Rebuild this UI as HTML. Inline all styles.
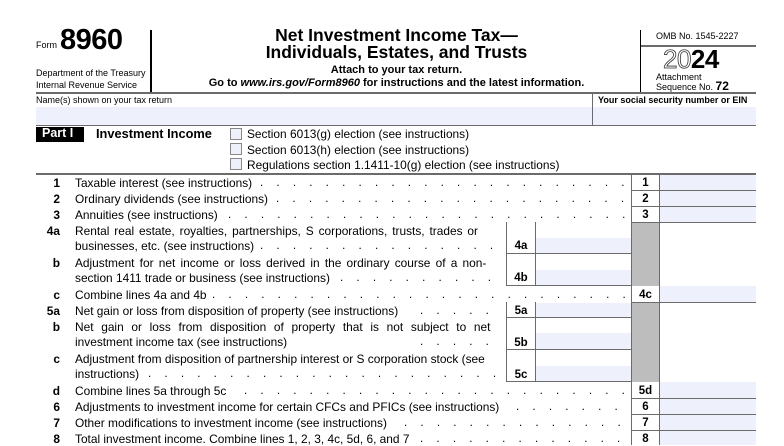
<!DOCTYPE html>
<html><head><meta charset="utf-8"><style>
body{margin:0;width:784px;height:445px;background:#fff;overflow:hidden;font-family:"Liberation Sans",Arial,sans-serif;color:#000;position:relative}
div,span{position:absolute;white-space:nowrap}
.hl{background:#000}
.g{background:#6b6b6b}
.fill{background:#eef1fc}
.gray{background:#bdbdbd}
.t{font-size:11.9px;line-height:14px}
.n{font-size:11.9px;line-height:14px;font-weight:bold;text-align:right;width:24px;left:36px}
.lb{font-size:11.5px;font-weight:bold;text-align:center;line-height:14px}
.dots{letter-spacing:13.2px;font-size:11.6px;line-height:14px;overflow:hidden}
.cb{width:10px;height:10px;border:1px solid #888;background:#eef1fc;left:230px}
</style></head><body>
<div style="left:36px;top:40px;font-size:9px">Form</div>
<div style="left:60px;top:24px;font-size:29px;font-weight:bold;letter-spacing:-0.5px">8960</div>
<div style="left:36px;top:67px;font-size:9px;line-height:12px">Department of the Treasury<br>Internal Revenue Service</div>
<div class="hl" style="left:150px;top:30px;width:2px;height:63px"></div>
<div style="left:152px;width:489px;top:27px;text-align:center;font-size:17.5px;font-weight:bold;line-height:17px">Net Investment Income Tax—<br>Individuals, Estates, and Trusts</div>
<div style="left:152px;width:489px;top:64px;text-align:center;font-size:11px;font-weight:bold">Attach to your tax return.</div>
<div style="left:152px;width:489px;top:77px;text-align:center;font-size:11px;font-weight:bold">Go to <i>www.irs.gov/Form8960</i> for instructions and the latest information.</div>
<div class="hl" style="left:640px;top:30px;width:1px;height:63px"></div>
<div style="left:656px;top:31px;font-size:9px">OMB No. 1545-2227</div>
<div class="g" style="left:641px;top:45px;width:115px;height:2px"></div>
<div style="left:663px;top:44px;font-size:26px;font-weight:bold;letter-spacing:-0.5px"><span style="position:static;color:#fff;-webkit-text-stroke:0.8px #333;font-weight:normal">20</span>24</div>
<div style="left:656px;top:73px;font-size:9px;line-height:9px">Attachment<br>Sequence No. <b style="font-size:12px">72</b></div>
<div class="g" style="left:36px;top:92px;width:720px;height:2px"></div>
<div style="left:36px;top:95px;font-size:9px">Name(s) shown on your tax return</div>
<div style="left:598px;top:95px;font-size:9px;font-weight:bold">Your social security number or EIN</div>
<div class="fill" style="left:36px;top:107px;width:720px;height:19px"></div>
<div class="g" style="left:592px;top:94px;width:1px;height:32px"></div>
<div class="g" style="left:36px;top:125px;width:720px;height:1px"></div>
<div class="hl" style="left:36px;top:127px;width:48px;height:15px"></div>
<div style="left:42px;top:126px;font-size:12.5px;font-weight:bold;color:#fff">Part I</div>
<div style="left:96px;top:126px;font-size:12.8px;font-weight:bold">Investment Income</div>
<div class="cb" style="top:128px"></div><div class="t" style="left:247px;top:127px">Section 6013(g) election (see instructions)</div>
<div class="cb" style="top:143px"></div><div class="t" style="left:247px;top:143px">Section 6013(h) election (see instructions)</div>
<div class="cb" style="top:158px"></div><div class="t" style="left:247px;top:158px">Regulations section 1.1411-10(g) election (see instructions)</div>
<div class="g" style="left:36px;top:173px;width:720px;height:2px"></div>

<div class="g" style="left:631px;top:175px;width:1px;height:270px"></div>
<div class="g" style="left:659px;top:175px;width:1px;height:270px"></div>
<div class="gray" style="left:632px;top:223px;width:27px;height:63px"></div>
<div class="gray" style="left:632px;top:303px;width:27px;height:79px"></div>
<div class="fill" style="left:660px;top:175px;width:96px;height:15px"></div>
<div class="fill" style="left:660px;top:191px;width:96px;height:15px"></div>
<div class="fill" style="left:660px;top:207px;width:96px;height:15px"></div>
<div class="fill" style="left:660px;top:286px;width:96px;height:16px"></div>
<div class="fill" style="left:660px;top:382px;width:96px;height:16px"></div>
<div class="fill" style="left:660px;top:399px;width:96px;height:15px"></div>
<div class="fill" style="left:660px;top:415px;width:96px;height:15px"></div>
<div class="fill" style="left:660px;top:431px;width:96px;height:14px"></div>
<div class="g" style="left:631px;top:190px;width:125px;height:1px"></div>
<div class="g" style="left:631px;top:206px;width:125px;height:1px"></div>
<div class="g" style="left:631px;top:222px;width:125px;height:1px"></div>
<div class="g" style="left:631px;top:302px;width:125px;height:1px"></div>
<div class="g" style="left:631px;top:398px;width:125px;height:1px"></div>
<div class="g" style="left:631px;top:414px;width:125px;height:1px"></div>
<div class="g" style="left:631px;top:430px;width:125px;height:1px"></div>
<div class="lb" style="left:632px;top:176px;width:27px">1</div>
<div class="lb" style="left:632px;top:192px;width:27px">2</div>
<div class="lb" style="left:632px;top:208px;width:27px">3</div>
<div class="lb" style="left:632px;top:288px;width:27px">4c</div>
<div class="lb" style="left:632px;top:384px;width:27px">5d</div>
<div class="lb" style="left:632px;top:400px;width:27px">6</div>
<div class="lb" style="left:632px;top:416px;width:27px">7</div>
<div class="lb" style="left:632px;top:432px;width:27px">8</div>
<div class="g" style="left:506px;top:222px;width:1px;height:64px"></div>
<div class="g" style="left:535px;top:222px;width:1px;height:64px"></div>
<div class="fill" style="left:536px;top:238px;width:95px;height:15px"></div>
<div class="fill" style="left:536px;top:270px;width:95px;height:15px"></div>
<div class="g" style="left:506px;top:253px;width:125px;height:1px"></div>
<div class="g" style="left:506px;top:285px;width:125px;height:1px"></div>
<div class="lb" style="left:507px;top:239px;width:28px">4a</div>
<div class="lb" style="left:507px;top:271px;width:28px">4b</div>
<div class="g" style="left:506px;top:302px;width:1px;height:80px"></div>
<div class="g" style="left:535px;top:302px;width:1px;height:80px"></div>
<div class="fill" style="left:536px;top:303px;width:95px;height:14px"></div>
<div class="fill" style="left:536px;top:333px;width:95px;height:16px"></div>
<div class="fill" style="left:536px;top:366px;width:95px;height:15px"></div>
<div class="g" style="left:506px;top:317px;width:125px;height:1px"></div>
<div class="g" style="left:506px;top:349px;width:125px;height:1px"></div>
<div class="g" style="left:506px;top:381px;width:125px;height:1px"></div>
<div class="lb" style="left:507px;top:304px;width:28px">5a</div>
<div class="lb" style="left:507px;top:336px;width:28px">5b</div>
<div class="lb" style="left:507px;top:368px;width:28px">5c</div>

<div class="n" style="top:176px">1</div><div class="t" style="left:75px;top:176px">Taxable interest (see instructions)</div><div class="dots" style="left:260px;top:176px;width:370px">...........................</div>
<div class="n" style="top:192px">2</div><div class="t" style="left:75px;top:192px">Ordinary dividends (see instructions)</div><div class="dots" style="left:276px;top:192px;width:354px">..........................</div>
<div class="n" style="top:208px">3</div><div class="t" style="left:75px;top:208px">Annuities (see instructions)</div><div class="dots" style="left:228px;top:208px;width:402px">.............................</div>
<div class="n" style="top:224px">4a</div><div class="t" style="left:75px;top:224px;word-spacing:1.6px">Rental real estate, royalties, partnerships, S corporations, trusts, trades or</div>
<div class="t" style="left:75px;top:239px">businesses, etc. (see instructions)</div><div class="dots" style="left:260px;top:239px;width:240px">...............</div>
<div class="n" style="top:256px">b</div><div class="t" style="left:75px;top:256px;word-spacing:1.9px">Adjustment for net income or loss derived in the ordinary course of a non-</div>
<div class="t" style="left:75px;top:271px">section 1411 trade or business (see instructions)</div><div class="dots" style="left:340px;top:271px;width:160px">..........</div>
<div class="n" style="top:288px">c</div><div class="t" style="left:75px;top:288px">Combine lines 4a and 4b</div><div class="dots" style="left:212px;top:288px;width:418px">..............................</div>
<div class="n" style="top:304px">5a</div><div class="t" style="left:75px;top:304px">Net gain or loss from disposition of property (see instructions)</div><div class="dots" style="left:420px;top:304px;width:80px">.....</div>
<div class="n" style="top:320px">b</div><div class="t" style="left:75px;top:320px;word-spacing:4.4px">Net gain or loss from disposition of property that is not subject to net</div>
<div class="t" style="left:75px;top:335px">investment income tax (see instructions)</div><div class="dots" style="left:420px;top:335px;width:80px">.....</div>
<div class="n" style="top:352px">c</div><div class="t" style="left:75px;top:352px">Adjustment from disposition of partnership interest or S corporation stock (see</div>
<div class="t" style="left:75px;top:367px">instructions)</div><div class="dots" style="left:148px;top:367px;width:352px">......................</div>
<div class="n" style="top:384px">d</div><div class="t" style="left:75px;top:384px">Combine lines 5a through 5c</div><div class="dots" style="left:244px;top:384px;width:386px">.............................</div>
<div class="n" style="top:400px">6</div><div class="t" style="left:75px;top:400px">Adjustments to investment income for certain CFCs and PFICs (see instructions)</div><div class="dots" style="left:516px;top:400px;width:114px">.......</div>
<div class="n" style="top:416px">7</div><div class="t" style="left:75px;top:416px">Other modifications to investment income (see instructions)</div><div class="dots" style="left:404px;top:416px;width:226px">..............</div>
<div class="n" style="top:432px">8</div><div class="t" style="left:75px;top:432px">Total investment income. Combine lines 1, 2, 3, 4c, 5d, 6, and 7</div><div class="dots" style="left:420px;top:432px;width:210px">.............</div>
</body></html>
